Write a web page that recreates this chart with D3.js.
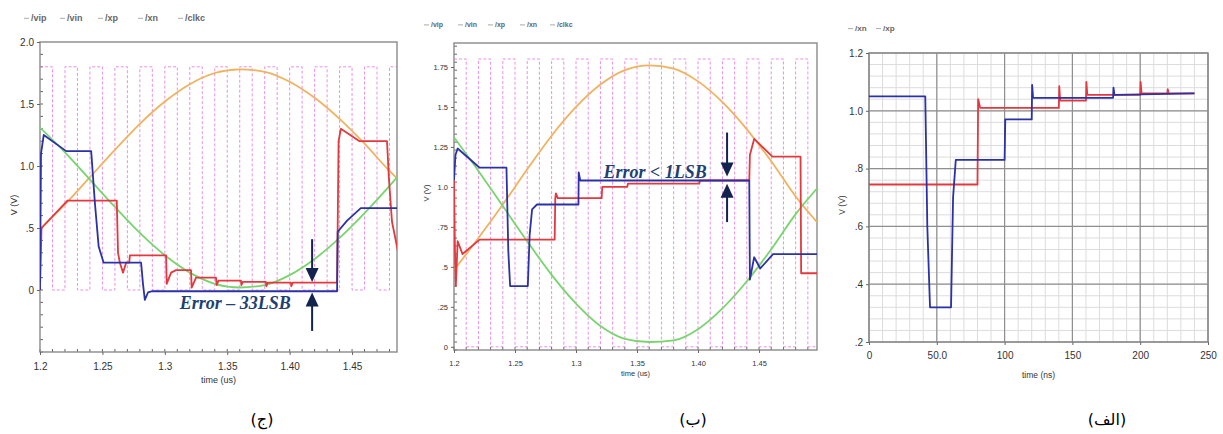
<!DOCTYPE html>
<html>
<head>
<meta charset="utf-8">
<script src="https://cdn.jsdelivr.net/npm/d3@7"></script>
<style>
  body { margin: 0; background: #fff; }
  svg { display: block; }
</style>
</head>
<body>
<script>
// ---------- data ----------
// clock edges (us), level alternates high / low starting high
var clkEdges = [1.20, 1.21, 1.22, 1.23, 1.24, 1.25, 1.26, 1.27, 1.28, 1.29, 1.30,
                1.31, 1.32, 1.33, 1.34, 1.35, 1.36, 1.37, 1.38, 1.39, 1.40,
                1.41, 1.42, 1.43, 1.44, 1.45, 1.46, 1.47, 1.48, 1.49, 1.50];
var clkHigh = 1.8;
var clkLow = 0;

// panel (ج)
var tC   = [1.20, 1.22, 1.24, 1.26, 1.28, 1.30, 1.32, 1.34, 1.36, 1.38, 1.40, 1.42, 1.44, 1.46, 1.48, 1.487];
var vipC = [0.49, 0.69, 0.91, 1.13, 1.34, 1.52, 1.66, 1.75, 1.78, 1.76, 1.68, 1.55, 1.38, 1.18, 0.96, 0.89];
var vinC = [1.31, 1.11, 0.89, 0.67, 0.46, 0.28, 0.14, 0.05, 0.02, 0.04, 0.12, 0.25, 0.42, 0.62, 0.84, 0.92];
var xpC = [[1.2, 0.0], [1.2012, 0.5], [1.222, 0.72], [1.2615, 0.72], [1.2625, 0.3], [1.264, 0.22],
           [1.2665, 0.14], [1.269, 0.22], [1.2715, 0.22], [1.272, 0.28], [1.301, 0.28], [1.3015, 0.05],
           [1.305, 0.14], [1.309, 0.16], [1.321, 0.16], [1.3215, 0.02], [1.325, 0.1], [1.341, 0.1],
           [1.3415, 0.04], [1.343, 0.075], [1.361, 0.075], [1.3613, 0.04], [1.3625, 0.065], [1.381, 0.065],
           [1.3813, 0.03], [1.3825, 0.06], [1.401, 0.06], [1.4013, 0.03], [1.4025, 0.06], [1.438, 0.06],
           [1.4392, 1.2], [1.441, 1.3], [1.456, 1.2], [1.478, 1.2], [1.4795, 0.9], [1.482, 0.55], [1.487, 0.3]];
var xnC = [[1.2, 0.0], [1.2008, 1.1], [1.203, 1.25], [1.221, 1.12], [1.241, 1.12], [1.244, 0.7],
           [1.247, 0.35], [1.251, 0.22], [1.281, 0.22], [1.2825, 0.05], [1.284, -0.08], [1.2865, -0.02],
           [1.29, -0.01], [1.438, -0.01], [1.4385, 0.47], [1.446, 0.56], [1.457, 0.66], [1.487, 0.66]];

// panel (ب)
var tB   = [1.20, 1.22, 1.24, 1.26, 1.28, 1.30, 1.32, 1.34, 1.36, 1.38, 1.40, 1.42, 1.44, 1.46, 1.48, 1.4975];
var vipB = [0.48, 0.68, 0.89, 1.11, 1.32, 1.50, 1.64, 1.73, 1.76, 1.74, 1.66, 1.53, 1.36, 1.16, 0.94, 0.78];
var vinB = [1.31, 1.10, 0.88, 0.66, 0.45, 0.27, 0.13, 0.05, 0.03, 0.04, 0.11, 0.24, 0.41, 0.61, 0.83, 0.99];
var xpB = [[1.2, 1.04], [1.2008, 0.6], [1.2015, 0.38], [1.203, 0.66], [1.207, 0.58], [1.221, 0.67],
           [1.2825, 0.67], [1.283, 0.93], [1.2835, 0.96], [1.285, 0.93], [1.321, 0.93], [1.3215, 1.0],
           [1.342, 1.0], [1.3425, 1.02], [1.401, 1.02], [1.4015, 1.04], [1.442, 1.04], [1.4425, 1.2],
           [1.446, 1.3], [1.461, 1.19], [1.484, 1.19], [1.4845, 0.46], [1.4975, 0.46]];
var xnB = [[1.2, 1.04], [1.2012, 1.2], [1.203, 1.24], [1.221, 1.12], [1.243, 1.12], [1.2445, 0.6],
           [1.246, 0.38], [1.2605, 0.38], [1.262, 0.7], [1.264, 0.86], [1.268, 0.89], [1.302, 0.89],
           [1.3022, 1.09], [1.3035, 1.04], [1.442, 1.04], [1.4425, 0.42], [1.446, 0.56], [1.451, 0.49],
           [1.4615, 0.58], [1.4975, 0.58]];

// panel (الف), time in ns
var xnA = [[0, 1.05], [41.5, 1.05], [43, 0.6], [45, 0.32], [60.5, 0.32], [62, 0.7], [64, 0.83],
           [100, 0.83], [100.5, 0.97], [120, 0.97], [120.3, 1.09], [121, 1.045], [180, 1.045],
           [180.3, 1.08], [181, 1.055], [240, 1.06]];
var xpA = [[0, 0.745], [80, 0.745], [80.5, 1.04], [82, 1.01], [140, 1.01], [140.3, 1.085],
           [141, 1.035], [160, 1.035], [160.3, 1.1], [161, 1.055], [200, 1.055], [200.3, 1.1],
           [201, 1.06], [220, 1.06], [220.3, 1.075], [221, 1.06], [240, 1.06]];

// tick labels
var xTicksUs = [1.2, 1.25, 1.3, 1.35, 1.4, 1.45];
var xLabelsUs = ["1.2", "1.25", "1.3", "1.35", "1.40", "1.45"];
var yTicksC = [0, 0.5, 1.0, 1.5, 2.0];
var yLabelsC = ["0", ".5", "1.0", "1.5", "2.0"];
var yTicksB = [0, 0.25, 0.5, 0.75, 1.0, 1.25, 1.5, 1.75];
var yLabelsB = ["0", ".25", ".5", ".75", "1.0", "1.25", "1.5", "1.75"];
var xTicksA = [0, 50, 100, 150, 200, 250];
var xLabelsA = ["0", "50.0", "100", "150", "200", "250"];
var yTicksA = [0.2, 0.4, 0.6, 0.8, 1.0, 1.2];
var yLabelsA = [".2", ".4", ".6", ".8", "1.0", "1.2"];

var legend5 = ["/vip", "/vin", "/xp", "/xn", "/clkc"];
var legend2 = ["/xn", "/xp"];

// ---------- drawing ----------
var W = 1223, H = 434;
var col = {vip: "#f1b25e", vin: "#78d56e", xp: "#e3383e", xn: "#2b31a6", clk: "#e276dc"};

var svg = d3.select("body").append("svg")
            .attr("width", W)
            .attr("height", H);

function pairs(ts, vs) {
  return ts.map(function(t, i) { return [t, vs[i]]; });
}

function drawPanel(p) {
  var x = d3.scaleLinear().domain(p.xDomain).range([p.left, p.right]);
  var y = d3.scaleLinear().domain(p.yDomain).range([p.bottom, p.top]);
  var g = svg.append("g");

  svg.append("clipPath").attr("id", "clip" + p.id)
     .append("rect")
     .attr("x", p.left).attr("y", p.top)
     .attr("width", p.right - p.left).attr("height", p.bottom - p.top);

  // grid (only the ns panel)
  if (p.grid) {
    g.selectAll("line.minx").data(d3.range(p.xDomain[0], p.xDomain[1] + 0.001, 10))
     .enter().append("line")
     .attr("x1", function(d) { return x(d); }).attr("x2", function(d) { return x(d); })
     .attr("y1", p.top).attr("y2", p.bottom)
     .attr("stroke", "#dcdcdc").attr("stroke-width", 1);
    g.selectAll("line.miny").data(d3.range(p.yDomain[0], p.yDomain[1] + 0.001, 0.04))
     .enter().append("line")
     .attr("y1", function(d) { return y(d); }).attr("y2", function(d) { return y(d); })
     .attr("x1", p.left).attr("x2", p.right)
     .attr("stroke", "#dcdcdc").attr("stroke-width", 1);
    g.selectAll("line.majx").data(p.xTicks)
     .enter().append("line")
     .attr("x1", function(d) { return x(d); }).attr("x2", function(d) { return x(d); })
     .attr("y1", p.top).attr("y2", p.bottom)
     .attr("stroke", "#8f8f8f").attr("stroke-width", 1.2);
    g.selectAll("line.majy").data(p.yTicks)
     .enter().append("line")
     .attr("y1", function(d) { return y(d); }).attr("y2", function(d) { return y(d); })
     .attr("x1", p.left).attr("x2", p.right)
     .attr("stroke", "#8f8f8f").attr("stroke-width", 1.2);
  }

  // minor ticks on the axes
  if (p.minorX) {
    g.selectAll("line.mtx").data(d3.range(p.xDomain[0], p.xDomain[1], p.minorX))
     .enter().append("line")
     .attr("x1", function(d) { return x(d); }).attr("x2", function(d) { return x(d); })
     .attr("y1", p.bottom).attr("y2", p.bottom - 3)
     .attr("stroke", "#666").attr("stroke-width", 1);
    g.selectAll("line.mty").data(d3.range(p.yDomain[0], p.yDomain[1], p.minorY))
     .enter().append("line")
     .attr("y1", function(d) { return y(d); }).attr("y2", function(d) { return y(d); })
     .attr("x1", p.left).attr("x2", p.left + 3)
     .attr("stroke", "#666").attr("stroke-width", 1);
  }

  // frame
  g.append("rect")
   .attr("x", p.left).attr("y", p.top)
   .attr("width", p.right - p.left).attr("height", p.bottom - p.top)
   .attr("fill", "none").attr("stroke", "#8a8a8a").attr("stroke-width", 1.4);

  // axes
  var xa = g.append("g").attr("transform", "translate(0," + p.bottom + ")")
            .call(d3.axisBottom(x).tickValues(p.xTicks).tickSize(3)
                    .tickFormat(function(d, i) { return p.xLabels[i]; }));
  var ya = g.append("g").attr("transform", "translate(" + p.left + ",0)")
            .call(d3.axisLeft(y).tickValues(p.yTicks).tickSize(3)
                    .tickFormat(function(d, i) { return p.yLabels[i]; }));
  [xa, ya].forEach(function(a) {
    a.select(".domain").remove();
    a.selectAll("line").attr("stroke", "#666");
    a.selectAll("text").attr("fill", "#333")
     .style("font-family", "Liberation Sans, Arial, sans-serif")
     .style("font-size", p.tickFont + "px");
  });
  xa.selectAll("text").attr("dy", p.xLabelDy);

  // axis titles
  g.append("text")
   .attr("x", (p.left + p.right) / 2).attr("y", p.xTitleY)
   .attr("text-anchor", "middle").attr("fill", "#333")
   .style("font-family", "Liberation Sans, Arial, sans-serif")
   .style("font-size", p.titleFont + "px")
   .text(p.xTitle);
  g.append("text")
   .attr("transform", "translate(" + p.yTitleX + "," + p.yTitleY + ") rotate(-90)")
   .attr("text-anchor", "middle").attr("fill", "#333")
   .style("font-family", "Liberation Sans, Arial, sans-serif")
   .style("font-size", p.titleFont + "px")
   .text("V (V)");

  // legend
  var lg = g.append("g");
  p.legend.forEach(function(name, i) {
    var lx = p.legendX[i];
    lg.append("line")
      .attr("x1", lx).attr("x2", lx + 5)
      .attr("y1", p.legendY - p.legendFont * 0.3).attr("y2", p.legendY - p.legendFont * 0.3)
      .attr("stroke", "#aaa").attr("stroke-width", 1);
    lg.append("text")
      .attr("x", lx + 7).attr("y", p.legendY)
      .attr("fill", "#666")
      .style("font-family", "Liberation Sans, Arial, sans-serif")
      .style("font-size", p.legendFont + "px")
      .style("font-weight", "bold")
      .text(name);
  });

  var plot = g.append("g").attr("clip-path", "url(#clip" + p.id + ")");
  return {x: x, y: y, plot: plot, g: g};
}

function drawLine(panel, data, color, width, curve, dash) {
  var line = d3.line()
               .x(function(d) { return panel.x(d[0]); })
               .y(function(d) { return panel.y(d[1]); })
               .curve(curve || d3.curveLinear);
  var path = panel.plot.append("path")
                  .datum(data)
                  .attr("d", line)
                  .attr("fill", "none")
                  .attr("stroke", color)
                  .attr("stroke-width", width)
                  .attr("stroke-linejoin", "round");
  if (dash) path.attr("stroke-dasharray", dash);
  return path;
}

function drawClock(panel) {
  var pts = clkEdges.map(function(t, i) { return [t, i % 2 == 0 ? clkHigh : clkLow]; });
  drawLine(panel, pts, col.clk, 1, d3.curveStepAfter, "3,2").attr("opacity", 0.8);
}

function arrow(panel, t, fromV, tipV, color) {
  var xx = panel.x(t), y0 = panel.y(fromV), y1 = panel.y(tipV);
  var dir = y1 > y0 ? 1 : -1;
  var headH = 14, headW = 6.5;
  panel.g.append("line")
     .attr("x1", xx).attr("x2", xx)
     .attr("y1", y0).attr("y2", y1 - dir * headH * 0.6)
     .attr("stroke", color).attr("stroke-width", 2);
  panel.g.append("path")
     .attr("d", "M" + xx + "," + y1 +
                "L" + (xx - headW) + "," + (y1 - dir * headH) +
                "L" + (xx + headW) + "," + (y1 - dir * headH) + "Z")
     .attr("fill", color);
}

function errText(panel, t, v, str) {
  panel.g.append("text")
     .attr("x", panel.x(t)).attr("y", panel.y(v))
     .attr("fill", "#213f72")
     .style("font-family", "Liberation Serif, Times New Roman, serif")
     .style("font-style", "italic")
     .style("font-weight", "bold")
     .style("font-size", "18px")
     .text(str);
}

// ---- panel (ج) ----
var pC = drawPanel({
  id: "C", left: 40, right: 397, top: 42, bottom: 352,
  xDomain: [1.2, 1.486], yDomain: [-0.5, 2.0],
  xTicks: xTicksUs, xLabels: xLabelsUs, yTicks: yTicksC, yLabels: yLabelsC,
  tickFont: 10, xLabelDy: "1.2em", titleFont: 9,
  xTitle: "time (us)", xTitleY: 383, yTitleX: 17, yTitleY: 205,
  legend: legend5, legendX: [24, 60, 98, 138, 178], legendY: 21, legendFont: 9,
  minorX: 0.01, minorY: 0.1
});
drawClock(pC);
drawLine(pC, pairs(tC, vipC), col.vip, 1.8, d3.curveMonotoneX);
drawLine(pC, pairs(tC, vinC), col.vin, 1.8, d3.curveMonotoneX);
drawLine(pC, xpC, col.xp, 1.8);
drawLine(pC, xnC, col.xn, 1.8);
arrow(pC, 1.418, 0.41, 0.065, "#13234f");
arrow(pC, 1.418, -0.33, -0.02, "#13234f");
errText(pC, 1.312, -0.15, "Error \u2013 33LSB");

// ---- panel (ب) ----
var pB = drawPanel({
  id: "B", left: 454, right: 817, top: 43, bottom: 350,
  xDomain: [1.2, 1.4975], yDomain: [-0.02, 1.9],
  xTicks: xTicksUs, xLabels: xLabelsUs, yTicks: yTicksB, yLabels: yLabelsB,
  tickFont: 7.5, xLabelDy: "1.3em", titleFont: 7.5,
  xTitle: "time (us)", xTitleY: 376, yTitleX: 429, yTitleY: 193,
  legend: legend5, legendX: [424, 458, 488, 520, 550], legendY: 27, legendFont: 7,
  minorX: 0.01, minorY: 0.05
});
drawClock(pB);
drawLine(pB, pairs(tB, vipB), col.vip, 1.8, d3.curveMonotoneX);
drawLine(pB, pairs(tB, vinB), col.vin, 1.8, d3.curveMonotoneX);
drawLine(pB, xpB, col.xp, 1.8);
drawLine(pB, xnB, col.xn, 1.8);
arrow(pB, 1.4238, 1.34, 1.065, "#13234f");
arrow(pB, 1.4238, 0.78, 1.02, "#13234f");
errText(pB, 1.3225, 1.056, "Error < 1LSB");

// ---- panel (الف) ----
var pA = drawPanel({
  id: "A", left: 869, right: 1208, top: 53, bottom: 342,
  xDomain: [0, 250], yDomain: [0.2, 1.2], grid: true,
  xTicks: xTicksA, xLabels: xLabelsA, yTicks: yTicksA, yLabels: yLabelsA,
  tickFont: 10, xLabelDy: "1.1em", titleFont: 8.5,
  xTitle: "time (ns)", xTitleY: 378, yTitleX: 845, yTitleY: 205,
  legend: legend2, legendX: [848, 876], legendY: 31, legendFont: 8
});
drawLine(pA, xpA, col.xp, 1.8);
drawLine(pA, xnA, col.xn, 1.8);

// ---- captions ----
var captions = [["(ج)", 262], ["(ب)", 693], ["(الف)", 1107]];
captions.forEach(function(c) {
  svg.append("text")
     .attr("x", c[1]).attr("y", 425)
     .attr("text-anchor", "middle")
     .attr("fill", "#000")
     .style("font-family", "DejaVu Sans, sans-serif")
     .style("font-size", "16px")
     .text(c[0]);
});
</script>
</body>
</html>
